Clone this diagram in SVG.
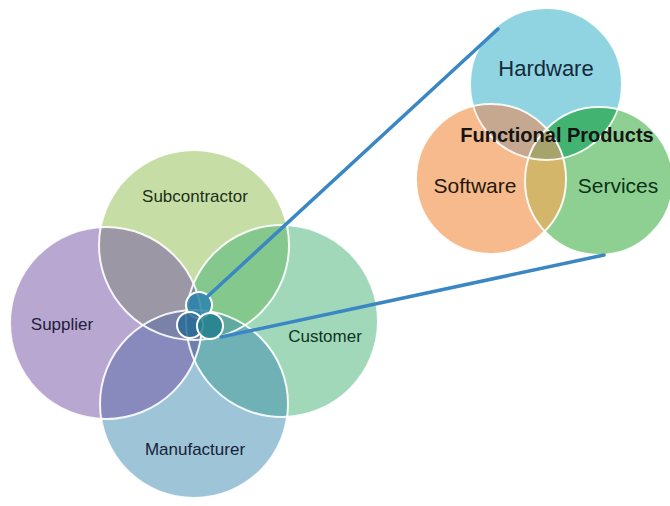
<svg xmlns="http://www.w3.org/2000/svg" width="670" height="506" viewBox="0 0 670 506">
<style>
  .big { fill-opacity: 0.5; stroke: none; }
  .outline { fill: none; stroke: #ffffff; stroke-width: 2; stroke-opacity: 0.9; }
  .lbl { font-family: "Liberation Sans", Arial, sans-serif; font-size: 17px; text-anchor: middle; }
  .lbl2 { font-family: "Liberation Sans", Arial, sans-serif; font-size: 21px; text-anchor: middle; }
  .bold { font-family: "Liberation Sans", Arial, sans-serif; font-size: 20px; font-weight: bold; text-anchor: middle; fill: #151515; }
  .link { stroke: #3a87c4; stroke-width: 3.5; stroke-linecap: round; fill: none; }
  .small { stroke: #ffffff; stroke-width: 2; fill-opacity: 0.85; }
</style>
<defs>
  <clipPath id="clipHW"><circle cx="546" cy="84" r="76"/></clipPath>
  <clipPath id="clipSW"><circle cx="491" cy="179" r="75"/></clipPath>
  <clipPath id="clipSV"><circle cx="599" cy="181" r="74"/></clipPath>
</defs>
<rect width="670" height="506" fill="#ffffff"/>

<g id="subcontractor">
  <circle class="big" cx="194" cy="245" r="95" fill="#8dbd4d"/>
  <text class="lbl" x="195" y="202" fill="#1c2e17">Subcontractor</text>
</g>
<g id="customer">
  <circle class="big" cx="282" cy="321" r="96" fill="#41b173"/>
  <text class="lbl" x="325" y="342" fill="#0c3522">Customer</text>
</g>
<g id="manufacturer">
  <circle class="big" cx="194" cy="404" r="94" fill="#3d89b1"/>
  <text class="lbl" x="195" y="455" fill="#162236">Manufacturer</text>
</g>
<g id="supplier">
  <circle class="big" cx="106" cy="323" r="96" fill="#714fa3"/>
  <text class="lbl" x="62" y="330" fill="#221d38">Supplier</text>
</g>
<g id="outlines-left">
  <circle class="outline" cx="194" cy="245" r="95"/>
  <circle class="outline" cx="282" cy="321" r="96"/>
  <circle class="outline" cx="194" cy="404" r="94"/>
  <circle class="outline" cx="106" cy="323" r="96"/>
</g>
<g id="functional-products-small">
  <circle class="small" cx="199" cy="305" r="13" fill="#2a84aa"/>
  <circle class="small" cx="190" cy="325" r="13" fill="#296b98"/>
  <circle class="small" cx="210" cy="326" r="13" fill="#23808f"/>
</g>

<g id="hardware">
  <circle cx="546" cy="84" r="76" fill="#8fd4e0"/>
  <text class="lbl2" x="546" y="76" fill="#132a3a" style="font-size:22px">Hardware</text>
</g>
<g id="software">
  <circle cx="491" cy="179" r="75" fill="#f7ba8c"/>
</g>
<g id="services">
  <circle cx="599" cy="181" r="74" fill="#8ed092"/>
</g>
<g id="overlaps-right">
  <circle cx="491" cy="179" r="75" fill="#c6a78f" clip-path="url(#clipHW)"/>
  <circle cx="599" cy="181" r="74" fill="#42b371" clip-path="url(#clipHW)"/>
  <circle cx="599" cy="181" r="74" fill="#d4b66b" clip-path="url(#clipSW)"/>
  <g clip-path="url(#clipHW)">
    <circle cx="599" cy="181" r="74" fill="#a7a36c" clip-path="url(#clipSW)"/>
  </g>
  <circle class="outline" cx="546" cy="84" r="76"/>
  <circle class="outline" cx="491" cy="179" r="75"/>
  <circle class="outline" cx="599" cy="181" r="74"/>
</g>
<g id="functional-products-labels">
  <text class="bold" x="557" y="142">Functional Products</text>
  <text class="lbl2" x="475" y="193" fill="#24180e">Software</text>
  <text class="lbl2" x="618" y="193" fill="#0b3016">Services</text>
</g>

<g id="connectors">
  <line class="link" x1="207" y1="297" x2="498" y2="29"/>
  <line class="link" x1="221" y1="337" x2="604" y2="255"/>
</g>
</svg>
